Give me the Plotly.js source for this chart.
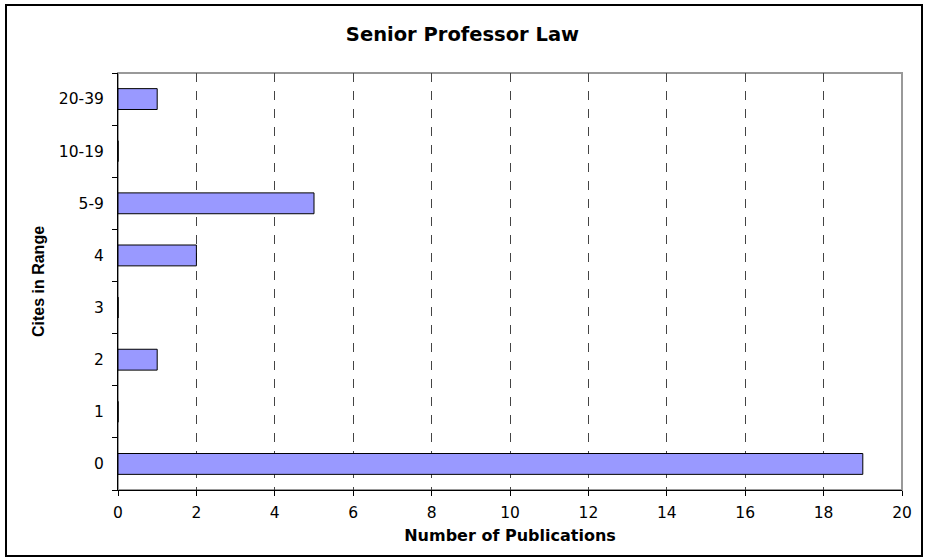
<!DOCTYPE html>
<html>
<head>
<meta charset="utf-8">
<script src="https://cdn.plot.ly/plotly-3.0.1.min.js"></script>
<style>
  html, body { margin: 0; padding: 0; background: #fff; }
  #wrap { position: relative; width: 925px; height: 558px; }
  #chart { position: absolute; left: 0; top: 0; width: 925px; height: 558px; }
  #frame { position: absolute; left: 5px; top: 4px; width: 914px; height: 549px; border: 2px solid #000; pointer-events: none; }
</style>
</head>
<body>
<div id="wrap">
  <div id="chart"></div>
  <div id="frame"></div>
</div>
<script>
const categories = ["0", "1", "2", "3", "4", "5-9", "10-19", "20-39"];
const publications = [19, 0, 1, 0, 2, 5, 0, 1];
const xTicks = [0, 2, 4, 6, 8, 10, 12, 14, 16, 18, 20];

const WIDE = "DejaVu Sans, Verdana, sans-serif";
const NARROW = "Liberation Sans, Arial, sans-serif";

const trace = {
  type: "bar",
  orientation: "h",
  y: categories,
  x: publications,
  marker: { color: "#9999FF", line: { color: "#000000", width: 1 } },
  hoverinfo: "x+y"
};

const layout = {
  width: 925,
  height: 558,
  margin: { l: 118, r: 23, t: 73, b: 68 },
  paper_bgcolor: "#ffffff",
  plot_bgcolor: "#ffffff",
  bargap: 0.6,
  showlegend: false,
  title: {
    text: "<b>Senior Professor Law</b>",
    font: { family: WIDE, size: 19.5, color: "#000" },
    x: 0.5, xanchor: "center",
    y: 0.939, yanchor: "middle"
  },
  xaxis: {
    range: [0, 20],
    tickvals: xTicks,
    ticktext: xTicks.map(String),
    showgrid: true,
    gridcolor: "#444444",
    gridwidth: 1,
    griddash: "dash",
    zeroline: false,
    showline: true,
    linecolor: "#000",
    linewidth: 1,
    ticks: "outside",
    ticklen: 5,
    tickcolor: "#000",
    tickfont: { family: WIDE, size: 15.5, color: "#000" },
    ticklabelstandoff: 3,
    title: {
      text: "<b>Number of Publications</b>",
      font: { family: WIDE, size: 16, color: "#000" },
      standoff: 9
    },
    fixedrange: true
  },
  yaxis: {
    type: "category",
    categoryorder: "array",
    categoryarray: categories,
    showgrid: false,
    zeroline: false,
    showline: true,
    linecolor: "#000",
    linewidth: 1,
    ticks: "outside",
    tickson: "boundaries",
    ticklen: 5,
    tickcolor: "#000",
    tickfont: { family: WIDE, size: 15.5, color: "#000" },
    ticklabelstandoff: 10,
    title: {
      text: "<b>Cites in Range</b>",
      font: { family: NARROW, size: 16, color: "#000" },
      standoff: 10
    },
    fixedrange: true
  },
  shapes: [{
    type: "rect",
    xref: "paper", yref: "paper",
    x0: 0, x1: 1, y0: 0, y1: 1,
    line: { color: "#999999", width: 2 },
    layer: "below"
  }]
};

Plotly.newPlot("chart", [trace], layout, { displayModeBar: false, staticPlot: true });
</script>
</body>
</html>
